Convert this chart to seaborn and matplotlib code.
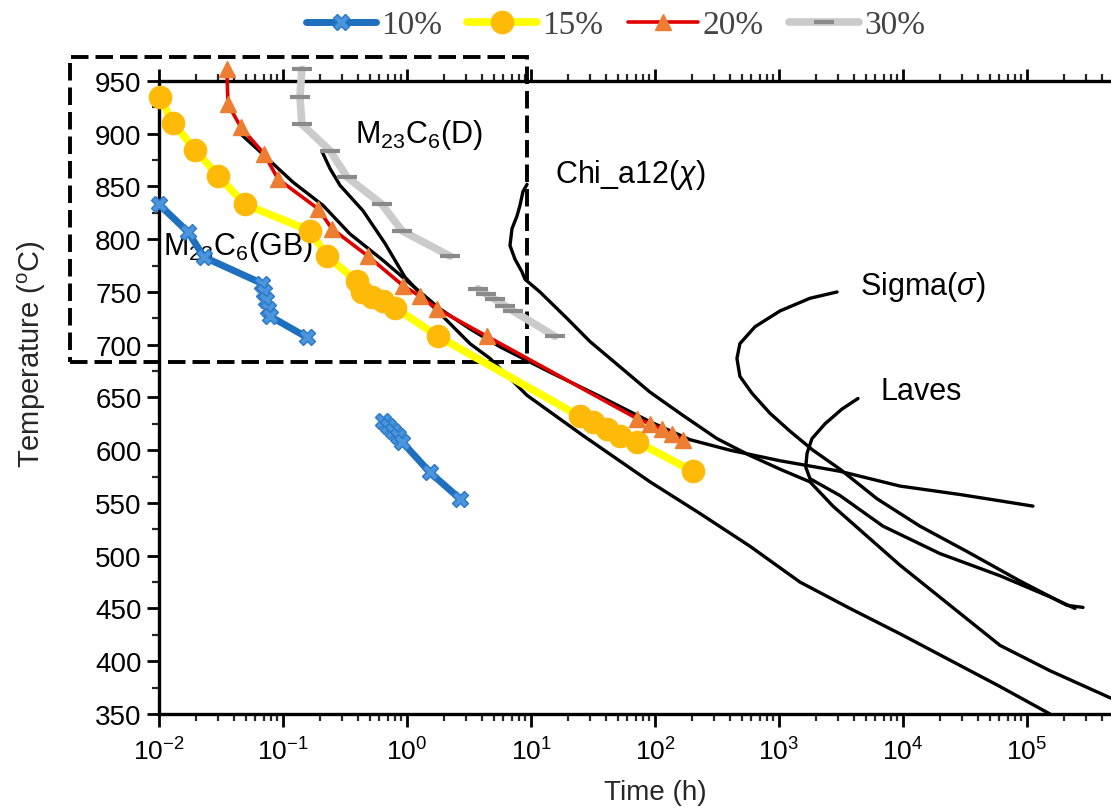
import numpy as np
import pandas as pd
import matplotlib
matplotlib.use("Agg")
import matplotlib.pyplot as plt
import seaborn as sns
from matplotlib.lines import Line2D
from matplotlib.patches import Rectangle
from matplotlib.ticker import LogLocator, NullFormatter, MultipleLocator, LogFormatterSciNotation
from matplotlib.font_manager import FontProperties

# ---------------- data (time in h, temperature in degC) ----------------
t10 = [0.01, 0.0171, 0.0231, 0.0678, 0.0703, 0.073, 0.0757, 0.0785, 0.156,
       np.nan, 0.64, 0.703, 0.771, 0.845, 0.911, 1.53, 2.67]
T10 = [833, 807, 783, 758, 750, 742, 734, 727, 707,
       np.nan, 628, 623, 618, 613, 608, 579, 554]

t15 = [0.0101, 0.013, 0.0195, 0.0299, 0.0494, 0.165, 0.226, 0.395, 0.434, 0.522,
       0.64, 0.80, 1.78, 24.8, 31.6, 41.0, 52.2, 71.6, 202]
T15 = [935, 910, 885, 860, 833, 808, 784, 760, 750, 745,
       741, 735, 708, 632, 627, 620, 613, 608, 580]

t20 = [0.0353, 0.036, 0.0458, 0.0703, 0.0912, 0.191, 0.248, 0.484, 0.929, 1.27,
       1.75, 4.41, 71.6, 91.2, 114, 137, 168]
T20 = [961, 928, 906, 881, 857, 829, 810, 784, 756, 746,
       734, 708, 630, 625, 620, 615, 610]

t30 = [0.142, 0.137, 0.142, 0.239, 0.328, 0.628, 0.911, 2.22,
       np.nan, 3.74, 4.34, 5.13, 6.17, 7.16, 15.6]
T30 = [961, 935, 909, 884, 859, 833, 808, 784,
       np.nan, 753, 748, 743, 737, 732, 708]

# calculated TTP boundaries (black curves)
gb_t = [0.0434, 0.0653, 0.1205, 0.2104, 0.3467, 0.640, 1.057, 1.845, 3.22, 5.62,
        14.2, 36.0, 91.2, 191, 403, 1019, 3105, 9460, 28800, 60600, 111700]
gb_T = [902, 883, 854, 832, 805, 780, 758, 734, 715, 698,
        674, 651, 627, 610, 600, 590, 580, 566, 558, 552, 547]

d_t = [0.2066, 0.2393, 0.2884, 0.4416, 0.665, 0.964, 1.532, 2.222, 3.22, 4.67,
       9.29, 26.2, 91.2, 230.7, 583, 1476, 3741, 9460, 23930, 60600, 153200]
d_T = [883, 867, 851, 827, 796, 764, 739, 720, 701, 687,
       652, 614, 570, 540, 509, 475, 450, 426, 401, 376, 350]

chi_t = [9.29, 8.61, 8.15, 7.71, 7.03, 6.77, 7.43, 8.46, 8.95, 11.8,
         19.5, 29.9, 43.4, 91.2, 168, 316, 583, 1019, 1778, 2723,
         9460, 23930, 60600, 153200, 475000]
chi_T = [852, 845, 832, 822, 810, 794, 781, 769, 762, 750,
         725, 703, 687, 655, 633, 611, 595, 582, 570, 547,
         491, 453, 415, 391, 365]

sig_t = [2938, 1778, 1019, 640, 484, 458, 484, 605, 846, 1227,
         1879, 3105, 6170, 13700, 32800, 87900, 210000, 283000]
sig_T = [750, 744, 732, 717, 701, 687, 670, 654, 635, 618,
         600, 582, 554, 528, 504, 476, 453, 451]

lav_t = [4335, 3221, 2350, 1845, 1683, 1643, 1778, 3105, 6900, 19870,
         60600, 153200, 243800]
lav_T = [649, 639, 625, 611, 597, 584, 573, 557, 528, 502,
         481, 461, 450]

series_labels = ["10%", "15%", "20%", "30%"]
xtick_decades = [1e-2, 1e-1, 1e0, 1e1, 1e2, 1e3, 1e4, 1e5]
yticks = [350, 400, 450, 500, 550, 600, 650, 700, 750, 800, 850, 900, 950]

# dashed highlight box corners (data coords)
box_t = [0.00191, 9.3]
box_T = [683.6, 972.7]


def seg_frame(t, T):
    df = pd.DataFrame({"t": t, "T": T})
    df["seg"] = df["T"].isna().cumsum()
    return df.dropna()


sns.set_style("ticks")
plt.rcParams["font.family"] = ["Liberation Sans", "DejaVu Sans"]
plt.rcParams["mathtext.fontset"] = "custom"
plt.rcParams["mathtext.rm"] = "Liberation Sans"
plt.rcParams["mathtext.it"] = "Liberation Sans:italic"
plt.rcParams["mathtext.bf"] = "Liberation Sans:bold"

fig = plt.figure(figsize=(11.11, 8.12), dpi=100)
ax = fig.add_axes([0.1431, 0.1195, 0.8929, 0.7796])

# black calculated curves
curves = pd.concat([
    pd.DataFrame({"t": gb_t, "T": gb_T, "c": "GB"}),
    pd.DataFrame({"t": d_t, "T": d_T, "c": "D"}),
    pd.DataFrame({"t": chi_t, "T": chi_T, "c": "chi"}),
    pd.DataFrame({"t": sig_t, "T": sig_T, "c": "sigma"}),
    pd.DataFrame({"t": lav_t, "T": lav_T, "c": "laves"}),
])
sns.lineplot(data=curves, x="t", y="T", units="c", estimator=None, sort=False,
             color="black", linewidth=2.4, legend=False, ax=ax, zorder=2)

styles = {
    "10%": dict(color="#1F6FBF", linewidth=5, marker="X", markersize=12,
                mfc="#4A95DC", mec="#2A78C8", mew=1.0),
    "15%": dict(color="#FFFF00", linewidth=5.5, marker="o", markersize=16,
                mfc="#FFBA08", mec="#FFBA08", mew=1.0),
    "20%": dict(color="#E00000", linewidth=2.6, marker="^", markersize=12,
                mfc="#ED7D31", mec="#ED7D31", mew=1.0),
    "30%": dict(color="#CBCBCB", linewidth=5.5, marker="_", markersize=15,
                mfc="#8A8A8A", mec="#8A8A8A", mew=3.0),
}
data_sets = {"10%": (t10, T10), "15%": (t15, T15), "20%": (t20, T20), "30%": (t30, T30)}
for z, lab in enumerate(["30%", "10%", "15%", "20%"]):
    t, T = data_sets[lab]
    df = seg_frame(t, T)
    sns.lineplot(data=df, x="t", y="T", units="seg", estimator=None, sort=False,
                 legend=False, ax=ax, clip_on=False, zorder=4 + z, **styles[lab])

# dashed box
rect = Rectangle((box_t[0], box_T[0]), box_t[1] - box_t[0], box_T[1] - box_T[0],
                 fill=False, edgecolor="black", linewidth=2.8,
                 linestyle=(0, (4.5, 1.8)), clip_on=False, zorder=1.5)
ax.add_patch(rect)

# annotations
tk = dict(fontsize=22, color="black", zorder=3)
ax.text(0.0108, 794, r"M$_{23}$C$_6$(GB)", va="center", ha="left", **tk)
ax.text(0.381, 900, r"M$_{23}$C$_6$(D)", va="center", ha="left", **tk)
ax.text(15.6, 862, r"Chi_a12($\chi$)", va="center", ha="left", **tk)
ax.text(4500, 756, r"Sigma($\sigma$)", va="center", ha="left", **tk)
ax.text(6530, 656, "Laves", va="center", ha="left", **tk)

# axes
ax.set_xscale("log")
ax.set_xlim(1e-2, 1e6)
ax.set_ylim(350, 950)
ax.set_xticks(xtick_decades)
ax.xaxis.set_major_formatter(LogFormatterSciNotation())
ax.xaxis.set_minor_locator(LogLocator(base=10, subs=np.arange(2, 10)))
ax.xaxis.set_minor_formatter(NullFormatter())
ax.set_yticks(yticks)
ax.yaxis.set_minor_locator(MultipleLocator(25))

for side in ["left", "bottom", "top", "right"]:
    ax.spines[side].set_linewidth(2.4)
    ax.spines[side].set_color("black")

ax.tick_params(axis="both", which="major", direction="out", length=9, width=2,
               colors="black")
ax.tick_params(axis="y", which="major", labelsize=20)
ax.tick_params(axis="x", which="major", labelsize=19, pad=8)
ax.tick_params(axis="both", which="minor", direction="out", length=5, width=1.6)
ax.tick_params(axis="x", which="both", top=True, labeltop=False)

ax.set_xlabel("Time (h)", fontsize=20, labelpad=10)
ax.set_ylabel(r"Temperature ($^{\mathrm{o}}$C)", fontsize=21)
ax.yaxis.set_label_coords(-0.112, 0.57)

# legend
handles = [Line2D([], [], **styles[l]) for l in series_labels]
fig.legend(handles, series_labels, loc="center", bbox_to_anchor=(0.554, 0.968),
           ncol=4, frameon=False, prop=FontProperties(family="Liberation Serif", size=24),
           handlelength=2.1, handletextpad=0.15, columnspacing=0.75,
           labelcolor="#444444")

fig.savefig("out.png", dpi=100)
